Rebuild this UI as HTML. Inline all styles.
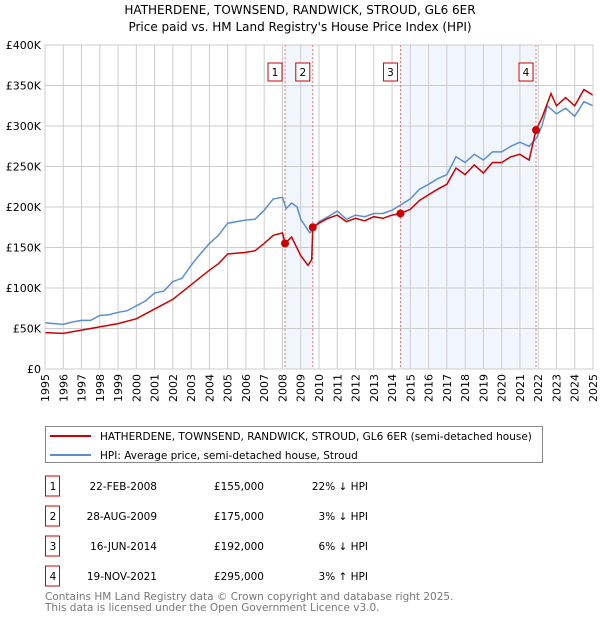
<!DOCTYPE html>
<html><head><meta charset="utf-8"><style>
body{margin:0;background:#fff;font-family:"Liberation Sans","DejaVu Sans",sans-serif;}
svg text{font-family:"DejaVu Sans","Liberation Sans",sans-serif;}
</style></head><body>
<svg id="c" width="600" height="620" xmlns="http://www.w3.org/2000/svg">
<text x="300" y="14" text-anchor="middle" font-size="12">HATHERDENE, TOWNSEND, RANDWICK, STROUD, GL6 6ER</text>
<text x="300" y="31" text-anchor="middle" font-size="12">Price paid vs. HM Land Registry's House Price Index (HPI)</text>
<g id="plot"></g>
<rect x="45.5" y="426.5" width="497" height="36" fill="#fff" stroke="#888"/>
<line x1="50" y1="436" x2="91" y2="436" stroke="#cc0000" stroke-width="2"/>
<text x="100" y="440" font-size="10.5">HATHERDENE, TOWNSEND, RANDWICK, STROUD, GL6 6ER (semi-detached house)</text>
<line x1="50" y1="455" x2="91" y2="455" stroke="#5b8fd0" stroke-width="2"/>
<text x="100" y="459" font-size="10.5">HPI: Average price, semi-detached house, Stroud</text>
<g id="tbl" font-size="10.5"></g>
<text x="45" y="600" font-size="10.5" fill="#777">Contains HM Land Registry data © Crown copyright and database right 2025.</text>
<text x="45" y="611" font-size="10.5" fill="#777">This data is licensed under the Open Government Licence v3.0.</text>
</svg>
<script>
const hpiYears=[1995,1995.5,1996,1996.5,1997,1997.5,1998,1998.5,1999,1999.5,2000,2000.5,2001,2001.5,2002,2002.5,2003,2003.5,2004,2004.5,2005,2005.5,2006,2006.5,2007,2007.5,2008,2008.2,2008.5,2008.8,2009,2009.5,2010,2010.5,2011,2011.5,2012,2012.5,2013,2013.5,2014,2014.5,2015,2015.5,2016,2016.5,2017,2017.5,2018,2018.5,2019,2019.5,2020,2020.5,2021,2021.5,2021.9,2022.2,2022.5,2023,2023.5,2024,2024.5,2025];
const hpiValues=[57,56,55,58,60,60,66,67,70,72,78,84,94,96,108,112,128,142,155,165,180,182,184,185,196,210,212,198,205,200,185,168,182,188,195,185,190,188,192,192,196,203,210,222,228,235,240,262,255,265,258,268,268,275,280,275,285,300,325,315,322,312,330,325];
const propYears=[1995,1996,1997,1998,1999,2000,2001,2002,2003,2004,2004.5,2005,2006,2006.5,2007,2007.5,2008,2008.14,2008.5,2009,2009.4,2009.6,2009.66,2010,2010.5,2011,2011.5,2012,2012.5,2013,2013.5,2014,2014.46,2015,2015.5,2016,2016.5,2017,2017.5,2018,2018.5,2019,2019.5,2020,2020.5,2021,2021.5,2021.88,2022.2,2022.7,2023,2023.5,2024,2024.5,2025];
const propValues=[45,44,48,52,56,62,74,86,104,122,130,142,144,146,155,165,168,155,163,140,128,135,175,180,186,190,182,186,183,188,186,190,192,197,208,215,222,228,248,240,252,242,255,255,262,265,258,295,310,340,325,335,325,345,338];
const saleYears=[2008.14,2009.66,2014.46,2021.88];
const saleValues=[155,175,192,295];
const saleLabels=["1","2","3","4"];
const saleDates=["22-FEB-2008","28-AUG-2009","16-JUN-2014","19-NOV-2021"];
const salePrices=["£155,000","£175,000","£192,000","£295,000"];
const saleDiffs=["22% ↓ HPI","3% ↓ HPI","6% ↓ HPI","3% ↑ HPI"];
const yTicks=[0,50,100,150,200,250,300,350,400];
const xTicks=[1995,1996,1997,1998,1999,2000,2001,2002,2003,2004,2005,2006,2007,2008,2009,2010,2011,2012,2013,2014,2015,2016,2017,2018,2019,2020,2021,2022,2023,2024,2025];
const X0=45,X1=593,Y0=369,Y1=45;
const sx=y=>X0+(y-1995)/30*(X1-X0);
const sy=v=>Y0-v/400*(Y0-Y1);
const NS="http://www.w3.org/2000/svg";
const g=document.getElementById('plot');
function mk(t,a,p){const e=document.createElementNS(NS,t);for(const k in a)e.setAttribute(k,a[k]);(p||g).appendChild(e);return e;}
// shading
[[0,1],[2,3]].forEach(([a,b],i)=>{const r=mk('rect',{x:sx(saleYears[a]),y:Y1,width:sx(saleYears[b])-sx(saleYears[a]),height:Y0-Y1,fill:'#eef3fc',opacity:0.8});

});
xTicks.forEach(t=>{const l=mk('line',{x1:sx(t),x2:sx(t),y1:Y1,y2:Y0,stroke:'#ccc'});


const tx=mk('text',{x:0,y:0,'font-size':11,'text-anchor':'end',transform:`translate(${sx(t)+4},${Y0+5}) rotate(-90)`});tx.textContent=t;

});
yTicks.forEach(t=>{const l=mk('line',{x1:X0,x2:X1,y1:sy(t),y2:sy(t),stroke:'#ccc'});


const tx=mk('text',{x:X0-4,y:sy(t)+4,'font-size':11,'text-anchor':'end'});tx.textContent=t===0?'£0':'£'+t+'K';

});
saleYears.forEach((y,i)=>{const l=mk('line',{x1:sx(y),x2:sx(y),y1:Y1,y2:Y0,stroke:'#e55','stroke-dasharray':'2,2','stroke-width':0.8});


const r=mk('rect',{x:sx(y)-17,y:63,width:14,height:18,fill:'#fff',stroke:'#cc0000'});


const t=mk('text',{x:sx(y)-10,y:76,'font-size':10.5,'text-anchor':'middle'});t.textContent=saleLabels[i];

});
const path=(xs,vs)=>xs.map((x,i)=>(i?'L':'M')+sx(x).toFixed(1)+','+sy(vs[i]).toFixed(1)).join('');
const h=mk('path',{d:path(hpiYears,hpiValues),fill:'none',stroke:'#5b8fd0','stroke-width':1.5});


const p=mk('path',{d:path(propYears,propValues),fill:'none',stroke:'#cc0000','stroke-width':1.5});


saleYears.forEach((y,i)=>{const c=mk('circle',{cx:sx(y),cy:sy(saleValues[i]),r:4,fill:'#cc0000'});

});
mk('rect',{x:X0,y:Y1,width:X1-X0,height:Y0-Y1,fill:'none',stroke:'#ccc'});
const tb=document.getElementById('tbl');
saleLabels.forEach((s,i)=>{const y=490+i*30;
const r=mk('rect',{x:45.5,y:y-14,width:14,height:20,fill:'#fff',stroke:'#cc0000'},tb);


const cells=[[52,s,'middle'],[157,saleDates[i],'end'],[264,salePrices[i],'end'],[368,saleDiffs[i],'end']];
cells.forEach(([x,txt,a])=>{const t=mk('text',{x:x+(a==='middle'?1:0),y:y,'text-anchor':a},tb);t.textContent=txt;

});});
</script>
</body></html>
